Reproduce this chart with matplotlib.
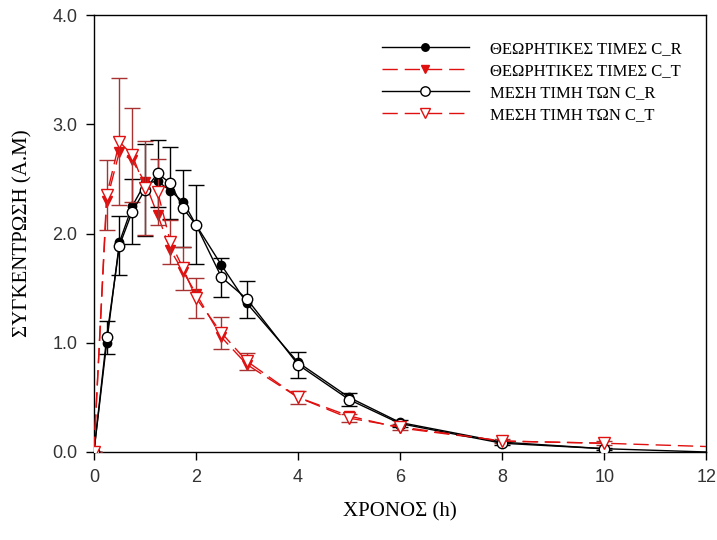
import numpy as np
import matplotlib
matplotlib.use("Agg")
import matplotlib.pyplot as plt

# sampling times (h)
t = [0, 0.25, 0.5, 0.75, 1.0, 1.25, 1.5, 1.75, 2.0, 2.5, 3, 4, 5, 6, 8, 10, 12]

# theoretical concentrations
theo_r = [0, 1.0, 1.92, 2.25, 2.46, 2.48, 2.39, 2.29, 2.08, 1.71, 1.36, 0.82, 0.5, 0.27, 0.09, 0.03, 0.0]
theo_t = [0, 2.3, 2.75, 2.67, 2.47, 2.17, 1.85, 1.65, 1.45, 1.05, 0.8, 0.5, 0.33, 0.22, 0.1, 0.08, 0.05]

# measured means and their deviations
mean_r = [0, 1.05, 1.89, 2.2, 2.4, 2.55, 2.46, 2.23, 2.08, 1.6, 1.4, 0.8, 0.48, 0.26, 0.08, 0.03]
err_r = [0, 0.15, 0.27, 0.3, 0.42, 0.31, 0.33, 0.35, 0.36, 0.18, 0.17, 0.12, 0.06, 0.03, 0.02, 0.01]
mean_t = [0, 2.35, 2.84, 2.72, 2.42, 2.38, 1.92, 1.68, 1.41, 1.09, 0.83, 0.5, 0.31, 0.23, 0.1, 0.08]
err_t = [0, 0.32, 0.58, 0.43, 0.43, 0.3, 0.2, 0.2, 0.18, 0.15, 0.08, 0.06, 0.04, 0.03, 0.02, 0.02]

labels = [
    "ΘΕΩΡΗΤΙΚΕΣ ΤΙΜΕΣ C_R",
    "ΘΕΩΡΗΤΙΚΕΣ ΤΙΜΕΣ C_T",
    "ΜΕΣΗ ΤΙΜΗ ΤΩΝ C_R",
    "ΜΕΣΗ ΤΙΜΗ ΤΩΝ C_T",
]

red = "#e01010"
red_err = "#a83232"
dash = (0, (11, 5))
serif = "Liberation Serif"
sans = "Liberation Sans"

fig = plt.figure(figsize=(7.17, 5.4), dpi=100)
ax = fig.add_axes([0.131, 0.163, 0.854, 0.809])

n = len(mean_r)
l1, = ax.plot(t, theo_r, color="black", lw=1.0, marker="o", ms=6,
              markevery=list(range(n)), label=labels[0], zorder=3)
l2, = ax.plot(t, theo_t, color=red, lw=1.0, ls=dash, marker="v", ms=7,
              markevery=list(range(n)), label=labels[1], zorder=3)
e3 = ax.errorbar(t[:n], mean_r, yerr=err_r, color="black", lw=1.0, marker="o",
                 ms=7.5, mfc="white", mec="black", ecolor="black",
                 elinewidth=1.0, capsize=6, capthick=1.0, zorder=4)
e4 = ax.errorbar(t[:n], mean_t, yerr=err_t, color=red, lw=1.0, ls=dash,
                 marker="v", ms=8, mfc="white", mec=red, ecolor=red_err,
                 elinewidth=1.0, capsize=6, capthick=1.0, zorder=4)

ax.set_xlim(0, 12)
ax.set_ylim(0, 4)
ax.set_xticks(np.arange(0, 13, 2))
ax.set_yticks(np.arange(0, 4.1, 1.0))
ax.set_yticklabels([f"{v:.1f}" for v in np.arange(0, 4.1, 1.0)])
ax.tick_params(direction="out", length=6, width=1, labelsize=13, pad=6)
for lab in ax.get_xticklabels() + ax.get_yticklabels():
    lab.set_fontfamily(sans)
    lab.set_color("#333333")
for s in ax.spines.values():
    s.set_linewidth(1.0)

ax.set_xlabel("ΧΡΟΝΟΣ (h)", fontsize=15, family=serif, labelpad=12)
ax.set_ylabel("ΣΥΓΚΕΝΤΡΩΣΗ (Α.Μ)", fontsize=15, family=serif, labelpad=14)

# legend shows plain line+marker for every series
handles = [l1, l2, e3.lines[0], e4.lines[0]]
ax.legend(handles, labels, loc="upper right", bbox_to_anchor=(0.985, 0.975),
          frameon=False, prop={"family": serif, "size": 12}, handlelength=5.2,
          handletextpad=1.3, labelspacing=0.36, markerscale=0.9)

fig.savefig("out.png", dpi=100)
